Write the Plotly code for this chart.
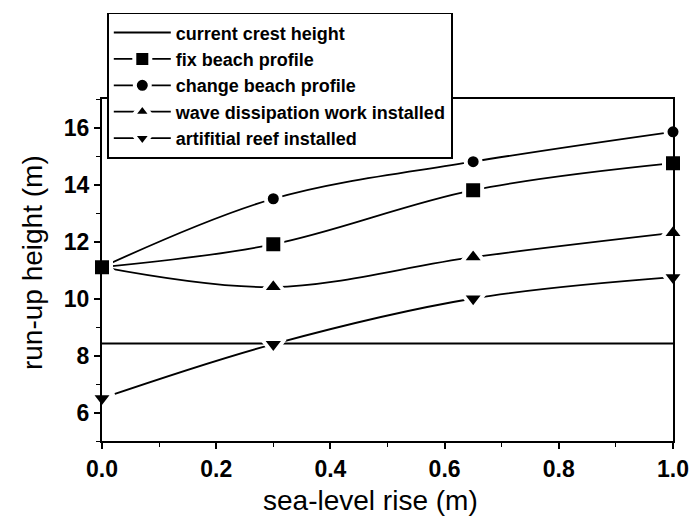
import plotly.graph_objects as go

sea_level = [0.0, 0.3, 0.65, 1.0]
crest_x = [0.0, 1.0]
crest_height = [8.42, 8.42]
fix_beach = [11.1, 11.9, 13.8, 14.75]
change_beach = [11.1, 13.5, 14.8, 15.85]
wave_dissipation = [11.1, 10.4, 11.45, 12.3]
artificial_reef = [6.5, 8.4, 10.0, 10.75]

FONT = "Liberation Sans, Arial, sans-serif"
fig = go.Figure()

def add(name, x, y, symbol, size, rank, mode="lines+markers"):
    fig.add_trace(go.Scatter(
        x=x, y=y, name=name, mode=mode, legendrank=rank, legendgroup=name,
        line=dict(color="black", width=1.8, shape="spline", smoothing=1.0),
        marker=dict(symbol=symbol, size=size, color="black",
                    line=dict(color="white", width=4)),
        cliponaxis=False,
    ))

fig.add_trace(go.Scatter(
    x=crest_x, y=crest_height, name="current crest height", mode="lines",
    legendrank=1, legendgroup="a",
    line=dict(color="black", width=2), cliponaxis=False))
add("change beach profile", sea_level, change_beach, "circle", 15, 3)
add("wave dissipation work installed", sea_level, wave_dissipation, "triangle-up", 20, 4)
add("artifitial reef installed", sea_level, artificial_reef, "triangle-down", 20, 5)
add("fix beach profile", sea_level, fix_beach, "square", 18, 2)

axis_common = dict(
    showline=True, linecolor="black", linewidth=2, mirror=True,
    ticks="outside", ticklen=6, tickwidth=1.5, tickcolor="black",
    showgrid=False, zeroline=False, automargin=False,
    tickfont=dict(family=FONT, size=23, color="black", weight="bold"),
)
fig.update_xaxes(range=[0, 1], dtick=0.2, tickformat=".1f",
                 minor=dict(dtick=0.1, ticks="outside", ticklen=4, tickcolor="black", tickwidth=1.2),
                 **axis_common)
fig.update_yaxes(range=[5, 17], dtick=2, tick0=0,
                 minor=dict(dtick=1, ticks="outside", ticklen=4, tickcolor="black", tickwidth=1.2),
                 **axis_common)

title_font = dict(family=FONT, size=28, color="black")
fig.add_annotation(text="sea-level rise (m)", xref="paper", yref="paper",
                   x=(370 - 102) / 571, y=-(501 - 441) / 344, showarrow=False,
                   xanchor="center", yanchor="middle", font=title_font)
fig.add_annotation(text="run-up height (m)", xref="paper", yref="paper",
                   x=-(102 - 32) / 571, y=(441 - 262) / 344, showarrow=False,
                   textangle=-90, xanchor="center", yanchor="middle", font=title_font)

fig.update_layout(
    width=699, height=522,
    margin=dict(l=102, r=26, t=97, b=81),
    plot_bgcolor="white", paper_bgcolor="white",
    showlegend=True,
    legend=dict(
        x=(107 - 102) / 571, y=(441 - 10) / 344, xanchor="left", yanchor="top",
        bgcolor="white", bordercolor="black", borderwidth=1.8,
        font=dict(family=FONT, size=18, color="black", weight="bold"),
        itemwidth=57, tracegroupgap=0, traceorder="grouped",
    ),
)

fig.write_html("out.html", config={"displayModeBar": False},
               post_script="document.body.style.margin='0';document.body.style.overflow='hidden';")
